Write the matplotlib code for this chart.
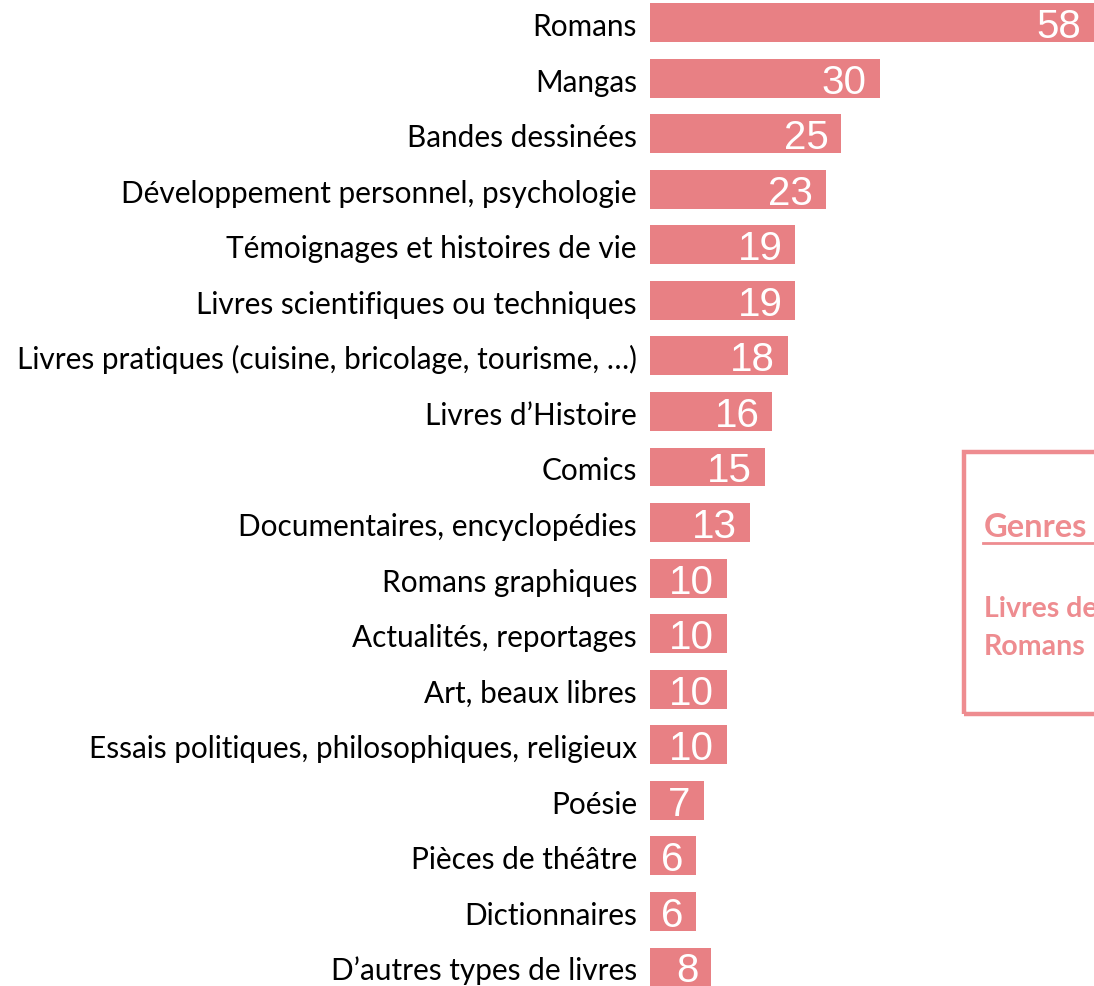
import matplotlib
matplotlib.use("Agg")
import matplotlib.pyplot as plt
from matplotlib.patches import Rectangle
from matplotlib.lines import Line2D

categories = [
    "Romans", "Mangas", "Bandes dessinées", "Développement personnel, psychologie",
    "Témoignages et histoires de vie", "Livres scientifiques ou techniques",
    "Livres pratiques (cuisine, bricolage, tourisme, …)", "Livres d’Histoire",
    "Comics", "Documentaires, encyclopédies", "Romans graphiques",
    "Actualités, reportages", "Art, beaux libres",
    "Essais politiques, philosophiques, religieux", "Poésie",
    "Pièces de théâtre", "Dictionnaires", "D’autres types de livres",
]
values = [58, 30, 25, 23, 19, 19, 18, 16, 15, 13, 10, 10, 10, 10, 7, 6, 6, 8]

box_title = "Genres"
box_lines = ["Livres de", "Romans"]

W, H = 1094, 987
DPI = 100
BAR = "#E88084"
BOXC = "#EE8C90"

fig = plt.figure(figsize=(W / DPI, H / DPI), dpi=DPI)
ax = fig.add_axes([650 / W, 0, 1 - 650 / W, 1])
n = len(categories)
pos = list(range(n))
ax.barh(pos, values, height=0.70, color=BAR)
ax.set_xlim(0, 58)
pitch = (968 - 23.5) / (n - 1)
ax.set_ylim(n - 1 + 19 / pitch, -23.5 / pitch)
ax.axis("off")

for i, (c, v) in enumerate(zip(categories, values)):
    ax.annotate(c, xy=(0, i), xytext=(-13 * 72 / DPI, -12.5 * 72 / DPI),
                textcoords="offset points", ha="right", va="baseline",
                fontsize=21.4, family="Lato", color="black", annotation_clip=False)
    ax.annotate(str(v), xy=(v, i), xytext=(-13 * 72 / DPI, -14.5 * 72 / DPI),
                textcoords="offset points", ha="right", va="baseline",
                fontsize=29, family="Liberation Sans", color="white")

# side box (partially cut off at the right edge)
fig.patches.append(Rectangle((964 / W, 1 - 715 / H), 200 / W, (715 - 453) / H,
                             transform=fig.transFigure, fill=False,
                             edgecolor=BOXC, linewidth=3.2))
fig.text(984 / W, 1 - 537 / H, box_title, fontsize=23.5, fontweight="bold",
         family="Lato", color=BOXC, va="baseline", ha="left")
fig.lines.append(Line2D([983 / W, 1.0], [1 - 544 / H, 1 - 544 / H],
                        transform=fig.transFigure, color=BOXC, linewidth=2))
for k, t in enumerate(box_lines):
    fig.text(984 / W, 1 - (617 + 38 * k) / H, t, fontsize=20.5, fontweight="bold",
             family="Lato", color=BOXC, va="baseline", ha="left")

fig.savefig("out.png", dpi=DPI)
